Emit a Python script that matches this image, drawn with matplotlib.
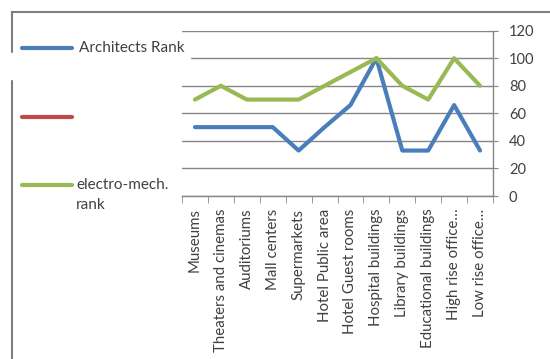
import matplotlib.pyplot as plt
from matplotlib.lines import Line2D

plt.rcParams['font.family'] = ['Lato', 'DejaVu Sans']

# Building types and the two rankings
categories = ['Museums', 'Theaters and cinemas', 'Auditoriums', 'Mall centers',
              'Supermarkets', 'Hotel Public area', 'Hotel Guest rooms',
              'Hospital buildings', 'Library buildings', 'Educational buildings',
              'High rise office\u2026', 'Low rise office\u2026']
architects_rank = [50, 50, 50, 50, 33, 50, 66, 100, 33, 33, 66, 33]
electro_mech_rank = [70, 80, 70, 70, 70, 80, 90, 100, 80, 70, 100, 80]
unnamed_rank = []

blue = '#4A7EBB'
red = '#BE4B48'
green = '#98B954'
grid_gray = '#868686'
text_col = '#404040'

W, H = 550, 359
fig = plt.figure(figsize=(W / 100, H / 100), dpi=100)
ax = fig.add_axes([182 / W, 1 - 196 / H, 311 / W, (196 - 30.7) / H])

x = list(range(len(categories)))
ax.plot(x, architects_rank, color=blue, lw=3, solid_capstyle='round', zorder=3)
ax.plot(unnamed_rank, unnamed_rank, color=red, lw=3)
ax.plot(x, electro_mech_rank, color=green, lw=3, solid_capstyle='round', zorder=4)

ax.set_xlim(-0.5, len(categories) - 0.5)
ax.set_ylim(0, 120)
ax.set_yticks(range(0, 121, 20))
ax.yaxis.tick_right()
ax.grid(axis='y', color=grid_gray, lw=1)
ax.set_axisbelow(True)
ax.tick_params(axis='y', which='major', direction='inout', length=7,
               color=grid_gray, labelsize=10.5, labelcolor=text_col, pad=8)

# category labels centred, tick marks on the slot boundaries
ax.set_xticks(x)
ax.set_xticklabels(categories, rotation=90, fontsize=10.8, color=text_col)
ax.tick_params(axis='x', which='major', length=0, pad=9)
ax.set_xticks([i - 0.5 for i in range(len(categories) + 1)], minor=True)
ax.tick_params(axis='x', which='minor', direction='out', length=5, color=grid_gray)

for s in ['top', 'left']:
    ax.spines[s].set_visible(False)
for s in ['right', 'bottom']:
    ax.spines[s].set_color(grid_gray)
    ax.spines[s].set_linewidth(1)

# chart frame
fig.add_artist(Line2D([12 / W, 1], [1 - 12 / H] * 2, color='#7f7f7f', lw=1.5))
fig.add_artist(Line2D([12 / W] * 2, [0, 1 - 12 / H], color='#7f7f7f', lw=1.5))
fig.add_artist(plt.Rectangle((0, 1 - 79 / H), 190 / W, 26 / H,
                             transform=fig.transFigure, color='white', zorder=5))

# legend
entries = [(blue, 48, 'Architects Rank', 79), (red, 117, '', 79),
           (green, 185, 'electro-mech.\nrank', 76)]
for col, yp, label, tx in entries:
    fig.add_artist(Line2D([22 / W, 72 / W], [1 - yp / H] * 2, color=col, lw=3,
                          solid_capstyle='round', zorder=6))
    if label:
        fig.text(tx / W, 1 - (yp - 7) / H, label, fontsize=11, color=text_col,
                 va='top', linespacing=1.5, zorder=6)

fig.savefig('out.png', dpi=100)
